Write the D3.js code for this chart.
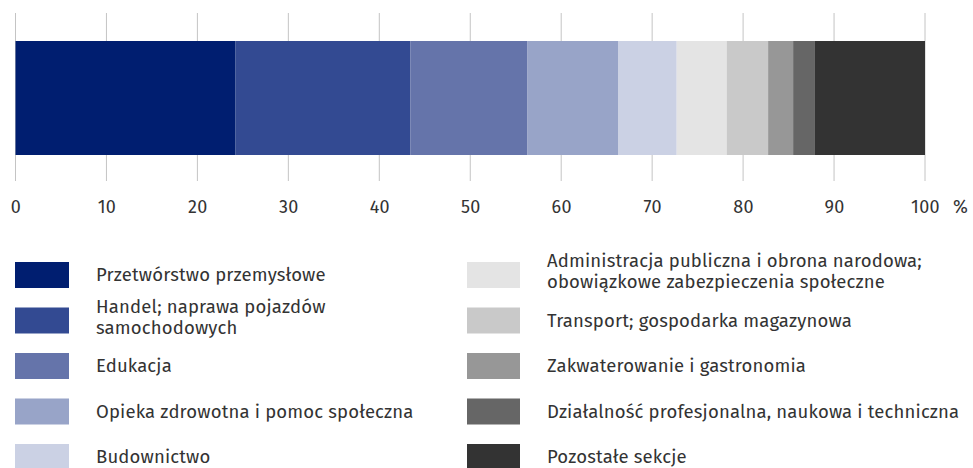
<!DOCTYPE html>
<html>
<head>
<meta charset="utf-8">
<script src="https://cdn.jsdelivr.net/npm/d3@7"></script>
<style>
  body { margin: 0; background: #fff; }
  text { font-family: "Fira Sans", "Open Sans", "Noto Sans", sans-serif; }
</style>
</head>
<body>
<div id="chart"></div>
<script>
// sections and their share (%)
var sections = [
    ["Przetwórstwo przemysłowe"],
    ["Handel; naprawa pojazdów", "samochodowych"],
    ["Edukacja"],
    ["Opieka zdrowotna i pomoc społeczna"],
    ["Budownictwo"],
    ["Administracja publiczna i obrona narodowa;", "obowiązkowe zabezpieczenia społeczne"],
    ["Transport; gospodarka magazynowa"],
    ["Zakwaterowanie i gastronomia"],
    ["Działalność profesjonalna, naukowa i techniczna"],
    ["Pozostałe sekcje"]
];
var shares = [24.2, 19.2, 12.9, 10.0, 6.4, 5.5, 4.55, 2.75, 2.4, 12.1];
var colors = ["#001e70", "#334a92", "#6574aa", "#98a4c8", "#cbd1e4",
              "#e4e4e4", "#c9c9c9", "#979797", "#666666", "#333333"];
var ticks = [0, 10, 20, 30, 40, 50, 60, 70, 80, 90, 100];

var width = 973, height = 468;

var svg = d3.select("#chart").append("svg")
    .attr("width", width)
    .attr("height", height);

var x = d3.scaleLinear()
    .domain([0, 100])
    .range([15.5, 925]);

// gridlines
svg.selectAll(".grid")
    .data(ticks)
  .enter().append("line")
    .attr("class", "grid")
    .attr("x1", d => x(d)).attr("x2", d => x(d))
    .attr("y1", 13).attr("y2", 181)
    .attr("stroke", "#c4c4c4")
    .attr("stroke-width", 1);

// stacked bar
var stack = [];
var acc = 0;
shares.forEach(function(v, i) {
    stack.push({ x0: acc, x1: acc + v, i: i });
    acc += v;
});

svg.selectAll(".seg")
    .data(stack)
  .enter().append("rect")
    .attr("class", "seg")
    .attr("x", d => x(d.x0))
    .attr("width", d => x(d.x1) - x(d.x0))
    .attr("y", 41)
    .attr("height", 114)
    .attr("fill", d => colors[d.i]);

// axis labels
var axis = d3.axisBottom(x)
    .tickValues(ticks)
    .tickSize(0)
    .tickPadding(0);

var gAxis = svg.append("g")
    .attr("transform", "translate(0,181)")
    .call(axis);
gAxis.select(".domain").remove();
gAxis.selectAll("text")
    .attr("y", 0)
    .attr("dy", "32")
    .style("font-family", "\"Fira Sans\", \"Open Sans\", sans-serif")
    .style("font-size", "18px")
    .style("letter-spacing", "0.3px")
    .style("fill", "#333");

svg.append("text")
    .attr("x", 953)
    .attr("y", 213)
    .style("font-size", "18px")
    .style("fill", "#333")
    .text("%");

// legend
var rowY = [262, 307.5, 353, 398.5, 444];
var legend = svg.selectAll(".leg")
    .data(sections)
  .enter().append("g")
    .attr("class", "leg")
    .attr("transform", function(d, i) {
        var col = i < 5 ? 0 : 1;
        var row = i % 5;
        return "translate(" + (col ? 467 : 15) + "," + rowY[row] + ")";
    });

legend.append("rect")
    .attr("width", (d, i) => i < 5 ? 54 : 53)
    .attr("height", 26)
    .attr("fill", (d, i) => colors[i]);

legend.each(function(lines, i) {
    var g = d3.select(this);
    var tx = i < 5 ? 81 : 80;
    var lh = 21;
    var start = 13 - (lines.length - 1) * (lh / 2 + 3.5);
    lines.forEach(function(l, j) {
        g.append("text")
            .attr("x", tx)
            .attr("y", start + j * lh)
            .attr("dy", "0.35em")
            .style("font-size", "18.5px")
            .style("letter-spacing", "0.15px")
            .style("fill", "#333")
            .text(l);
    });
});
</script>
</body>
</html>
